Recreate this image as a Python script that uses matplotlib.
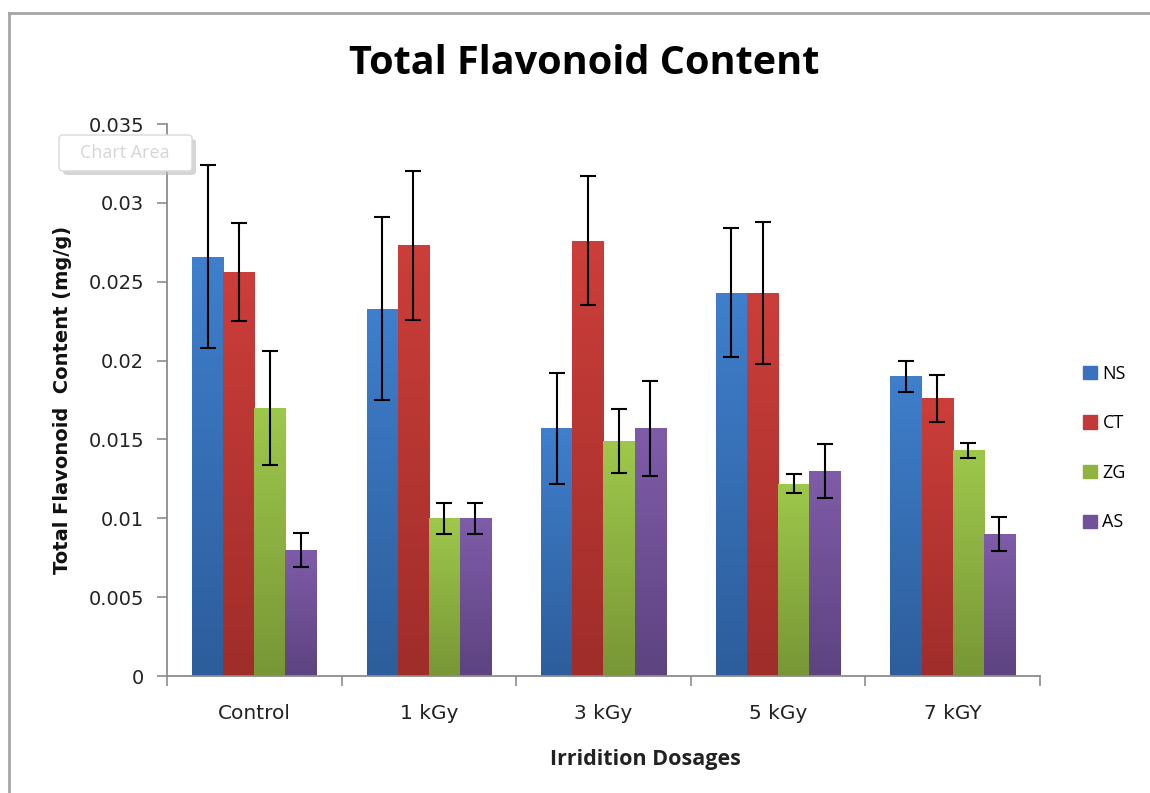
import matplotlib

matplotlib.use("Agg")
import matplotlib.pyplot as plt
import numpy as np
from matplotlib.lines import Line2D
from matplotlib.patches import Rectangle, FancyBboxPatch
from matplotlib.colors import LinearSegmentedColormap

categories = ["Control", "1 kGy", "3 kGy", "5 kGy", "7 kGY"]
series_names = ["NS", "CT", "ZG", "AS"]

ns_values = [0.0266, 0.0233, 0.0157, 0.0243, 0.0190]
ct_values = [0.0256, 0.0273, 0.0276, 0.0243, 0.0176]
zg_values = [0.0170, 0.0100, 0.0149, 0.0122, 0.0143]
as_values = [0.0080, 0.0100, 0.0157, 0.0130, 0.0090]

ns_errors = [0.0058, 0.0058, 0.0035, 0.0041, 0.0010]
ct_errors = [0.0031, 0.0047, 0.0041, 0.0045, 0.0015]
zg_errors = [0.0036, 0.0010, 0.0020, 0.0006, 0.0005]
as_errors = [0.0011, 0.0010, 0.0030, 0.0017, 0.0011]

y_ticks = [0, 0.005, 0.01, 0.015, 0.02, 0.025, 0.03, 0.035]
y_tick_labels = ["0", "0.005", "0.01", "0.015", "0.02", "0.025", "0.03", "0.035"]

# gradient colours (top, bottom) like the Excel bars
GRADIENTS = [
    ("#3f7fcc", "#2d5d9b"),
    ("#cc3e3a", "#9f2d2a"),
    ("#9ec84c", "#789636"),
    ("#7f5ca9", "#5d4380"),
]
LEGEND_COLORS = ["#3a72bd", "#c2393a", "#8fb43f", "#71519a"]

FONT = ["Open Sans", "DejaVu Sans"]
TICK_FONT = ["DejaVu Sans"]


def draw_gradient_bars(axis, x_positions, heights, width, top_color, bottom_color):
    cmap = LinearSegmentedColormap.from_list("grad", [bottom_color, top_color])
    gradient = np.linspace(0, 1, 256).reshape(-1, 1)
    bars = axis.bar(x_positions, heights, width, color=top_color, linewidth=0, zorder=2)
    for bar in bars:
        x0, y0 = bar.get_x(), bar.get_y()
        w, h = bar.get_width(), bar.get_height()
        image = axis.imshow(
            gradient,
            cmap=cmap,
            origin="lower",
            aspect="auto",
            extent=(x0, x0 + w, y0, y0 + h),
            zorder=2.1,
        )
        image.set_clip_path(bar)
    return bars


def main() -> None:
    figure = plt.figure(figsize=(11.5, 7.93), dpi=100)
    axis = figure.add_axes([0.1452, 0.1475, 0.7591, 0.6961])

    values = [ns_values, ct_values, zg_values, as_values]
    errors = [ns_errors, ct_errors, zg_errors, as_errors]

    x = np.arange(len(categories))
    bar_width = 0.178
    offsets = (np.arange(len(series_names)) - 1.5) * bar_width

    for index, name in enumerate(series_names):
        positions = x + offsets[index]
        top_color, bottom_color = GRADIENTS[index]
        draw_gradient_bars(axis, positions, values[index], bar_width, top_color, bottom_color)
        axis.errorbar(
            positions,
            values[index],
            yerr=errors[index],
            fmt="none",
            ecolor="black",
            elinewidth=1.5,
            capsize=6,
            capthick=1.5,
            zorder=3,
        )

    axis.set_xlim(-0.5, len(categories) - 0.5)
    axis.set_ylim(0, 0.035)
    axis.set_yticks(y_ticks)
    axis.set_yticklabels(y_tick_labels, fontsize=14, family=TICK_FONT, color="#222222")

    axis.set_xticks(np.arange(-0.5, len(categories), 1.0))
    axis.set_xticklabels([])
    axis.set_xticks(x, minor=True)
    axis.set_xticklabels(categories, minor=True, fontsize=14.5, family=TICK_FONT, color="#222222")
    axis.tick_params(axis="x", which="minor", length=0, pad=20)
    axis.tick_params(axis="x", which="major", length=7, color="#8c8c8c", width=1.2)
    axis.tick_params(axis="y", length=7, color="#8c8c8c", width=1.2, pad=9.5)

    for side in ("top", "right"):
        axis.spines[side].set_visible(False)
    for side in ("left", "bottom"):
        axis.spines[side].set_color("#8c8c8c")
        axis.spines[side].set_linewidth(1.3)

    axis.set_xlabel("Irridition Dosages", fontsize=15.5, fontweight="bold", family=FONT,
                    color="#222222")
    axis.xaxis.set_label_coords(0.5476, -0.133)
    axis.set_ylabel("Total Flavonoid  Content (mg/g)", fontsize=14, fontweight="bold",
                    family=TICK_FONT, color="#111111", labelpad=12)

    figure.text(0.508, 0.920, "Total Flavonoid Content", ha="center", va="center",
                fontsize=28.5, fontweight="bold", family=FONT, color="black")

    # legend
    handles = [Rectangle((0, 0), 1, 1, color=c) for c in LEGEND_COLORS]
    figure.legend(
        handles,
        series_names,
        loc="center left",
        bbox_to_anchor=(0.928, 0.435),
        frameon=False,
        prop={"family": FONT, "size": 13},
        handlelength=0.75,
        handleheight=0.75,
        handletextpad=0.3,
        labelspacing=1.75,
    )

    # chart area border (left and top edges only are visible in the crop)
    border_x = 9 / 1150
    border_y = 1 - 13 / 793
    figure.lines.append(Line2D([border_x, border_x], [-0.05, border_y], transform=figure.transFigure,
                               color="#a6a6a6", linewidth=2.0))
    figure.lines.append(Line2D([border_x, 1.05], [border_y, border_y], transform=figure.transFigure,
                               color="#a6a6a6", linewidth=2.0))

    # "Chart Area" tooltip
    figure.patches.append(
        FancyBboxPatch((63 / 1150, (793 - 175) / 793), 133 / 1150, 36 / 793,
                       boxstyle="round,pad=0,rounding_size=0.004",
                       transform=figure.transFigure, facecolor="#bbbbbb", edgecolor="none",
                       alpha=0.6, zorder=5)
    )
    figure.patches.append(
        FancyBboxPatch((59 / 1150, (793 - 171) / 793), 133 / 1150, 36 / 793,
                       boxstyle="round,pad=0,rounding_size=0.004",
                       transform=figure.transFigure, facecolor="white", edgecolor="#d9d9d9",
                       linewidth=1, zorder=6)
    )
    figure.text(125 / 1150, (793 - 153) / 793, "Chart Area", ha="center", va="center",
                fontsize=13, family=FONT, color="#d6d6d6", zorder=7)

    figure.savefig("out.png", dpi=100, facecolor="white")
    plt.close(figure)


if __name__ == "__main__":
    main()
